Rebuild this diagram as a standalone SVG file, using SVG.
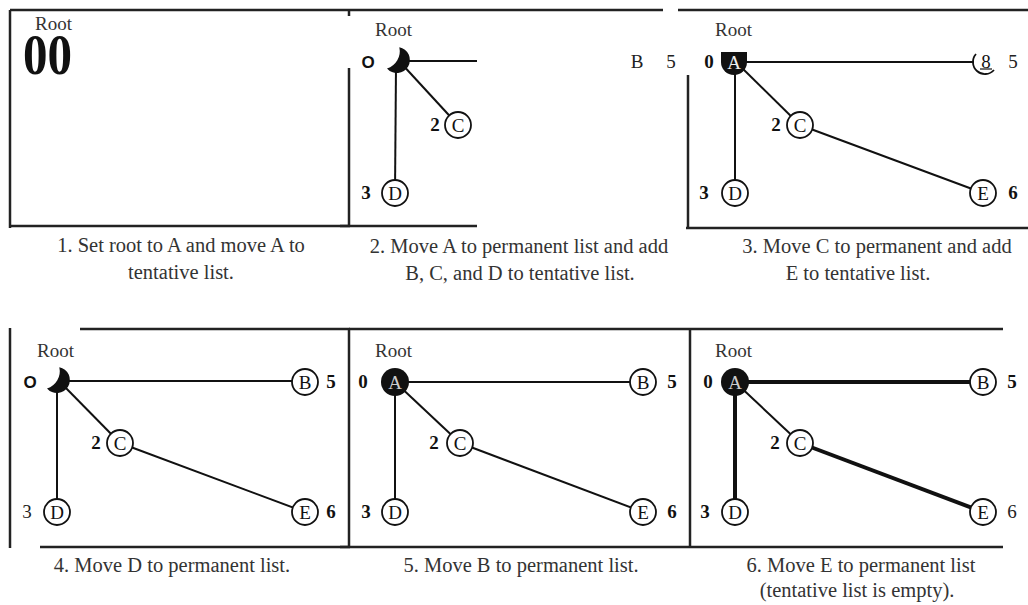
<svg xmlns="http://www.w3.org/2000/svg" width="1028" height="605" viewBox="0 0 1028 605">
<style>
.frame{stroke:#222;stroke-width:2.5;fill:none}
.edge{stroke:#111;stroke-width:2;fill:none}
.thick{stroke:#111;stroke-width:4;fill:none}
.node{fill:#fff;stroke:#111;stroke-width:1.8}
.nl{font-family:"Liberation Serif",serif;font-size:19px;fill:#111;text-anchor:middle}
.num{font-family:"Liberation Serif",serif;font-size:19px;font-weight:bold;fill:#111;text-anchor:middle}
.numr{font-family:"Liberation Serif",serif;font-size:19px;fill:#222;text-anchor:middle}
.root{font-family:"Liberation Serif",serif;font-size:19px;fill:#333}
.cap{font-family:"Liberation Serif",serif;font-size:20.5px;fill:#333;text-anchor:middle}
.o{font-family:"Liberation Sans",sans-serif;font-size:17px;font-weight:bold;fill:#111;text-anchor:middle}
.blk{fill:#111}
.wl{font-family:"Liberation Serif",serif;font-size:19px;fill:#ccc;text-anchor:middle}
</style>
<rect width="1028" height="605" fill="#fff"/>

<g id="frames">
<line class="frame" x1="10" y1="10" x2="663" y2="10"/>
<line class="frame" x1="678" y1="10" x2="1028" y2="10"/>
<line class="frame" x1="10" y1="10" x2="10" y2="228"/>
<line class="frame" x1="9" y1="226" x2="350" y2="226"/>
<line class="frame" x1="349" y1="10" x2="349" y2="16"/>
<line class="frame" x1="349" y1="68" x2="349" y2="227"/>
<line class="frame" x1="340" y1="226" x2="477" y2="226"/>
<line class="frame" x1="688" y1="75" x2="688" y2="229"/>
<line class="frame" x1="686" y1="228" x2="1028" y2="228"/>
<line class="frame" x1="80" y1="329" x2="350" y2="329"/>
<line class="frame" x1="10" y1="328" x2="10" y2="548"/>
<line class="frame" x1="40" y1="547" x2="350" y2="547"/>
<line class="frame" x1="349" y1="329" x2="349" y2="548"/>
<line class="frame" x1="349" y1="329" x2="690" y2="329"/>
<line class="frame" x1="340" y1="547" x2="690" y2="547"/>
<line class="frame" x1="690" y1="329" x2="690" y2="548"/>
<line class="frame" x1="690" y1="329" x2="1003" y2="329"/>
<line class="frame" x1="690" y1="547" x2="1003" y2="547"/>
</g>

<!-- Panel 1 -->
<g id="panel1">
<g id="p1-root"><text class="root" x="35" y="30">Root</text>
<text x="23" y="74" font-family="Liberation Serif,serif" font-size="56" font-weight="bold" fill="#111" textLength="49" lengthAdjust="spacingAndGlyphs">00</text></g>
<text class="cap" x="181" y="252">1. Set root to A and move A to</text>
<text class="cap" x="181" y="279">tentative list.</text>
</g>

<!-- Panel 2 -->
<g id="panel2">
<g id="p2-connectors">
<line class="edge" x1="400" y1="61" x2="477" y2="61"/>
<line class="edge" x1="400" y1="62" x2="458" y2="125"/>
<line class="edge" x1="396" y1="66" x2="395" y2="193"/>
</g>
<text class="root" x="375" y="36">Root</text>
<g id="p2-A"><path class="blk" d="M399.3,47.2 A13,13 0 1,1 387,68.4 A18,18 0 0,0 399.3,47.2 Z"/><text class="o" x="368" y="68">O</text></g>
<g id="p2-C"><circle class="node" cx="458" cy="125" r="13"/><text class="nl" x="458" y="132">C</text><text class="num" x="435" y="131">2</text></g>
<g id="p2-D"><circle class="node" cx="395" cy="193" r="13"/><text class="nl" x="395" y="200">D</text><text class="num" x="366" y="199">3</text></g>
<g id="p2-B"><text class="numr" x="637" y="68">B</text><text class="numr" x="671" y="68">5</text></g>
<text class="cap" x="519" y="253">2. Move A to permanent list and add</text>
<text class="cap" x="520" y="280">B, C, and D to tentative list.</text>
</g>

<!-- Panel 3 -->
<g id="panel3">
<g id="p3-connectors">
<line class="edge" x1="740" y1="62" x2="974" y2="62"/>
<line class="edge" x1="740" y1="66" x2="800" y2="125"/>
<line class="edge" x1="735" y1="70" x2="735" y2="193"/>
</g>
<g id="p3-connectors2">
<line class="edge" x1="800" y1="125" x2="983" y2="193"/>
</g>
<text class="root" x="715" y="36">Root</text>
<g id="p3-A"><path class="blk" d="M721,52 L747,52 L747,62 A13,13 0 0,1 721,62 Z"/><text class="wl" x="734" y="69" style="fill:#eee">A</text><text class="num" x="709" y="68">0</text></g>
<g id="p3-B"><path d="M976,54 A11,11 0 0,0 994,70" fill="none" stroke="#111" stroke-width="1.8"/><text class="nl" x="986" y="68">8</text><line x1="980" y1="69" x2="992" y2="69" stroke="#111" stroke-width="1.2"/><text class="numr" x="1013" y="68">5</text></g>
<g id="p3-C"><circle class="node" cx="800" cy="125" r="13"/><text class="nl" x="800" y="132">C</text><text class="num" x="776" y="131">2</text></g>
<g id="p3-D"><circle class="node" cx="735" cy="193" r="13"/><text class="nl" x="735" y="200">D</text><text class="num" x="704" y="199">3</text></g>
<g id="p3-E"><circle class="node" cx="983" cy="193" r="13"/><text class="nl" x="983" y="200">E</text><text class="num" x="1013" y="199">6</text></g>
<text class="cap" x="877" y="253">3. Move C to permanent and add</text>
<text class="cap" x="858" y="280">E to tentative list.</text>
</g>

<!-- Panel 4 -->
<g id="panel4">
<g id="p4-connectors">
<line class="edge" x1="60" y1="381" x2="305" y2="381"/>
<line class="edge" x1="60" y1="382" x2="120" y2="443"/>
<line class="edge" x1="57" y1="386" x2="57" y2="512"/>
<line class="edge" x1="120" y1="443" x2="305" y2="512"/>
</g>
<text class="root" x="37" y="357">Root</text>
<g id="p4-A"><path class="blk" d="M59.3,367.2 A13,13 0 1,1 47,388.4 A18,18 0 0,0 59.3,367.2 Z"/><text class="o" x="30" y="388">O</text></g>
<g id="p4-B"><circle class="node" cx="305" cy="382" r="13"/><text class="nl" x="305" y="389">B</text><text class="num" x="331" y="388">5</text></g>
<g id="p4-C"><circle class="node" cx="120" cy="443" r="13"/><text class="nl" x="120" y="450">C</text><text class="num" x="96" y="449">2</text></g>
<g id="p4-D"><circle class="node" cx="57" cy="512" r="13"/><text class="nl" x="57" y="519">D</text><text class="numr" x="27" y="518">3</text></g>
<g id="p4-E"><circle class="node" cx="305" cy="512" r="13"/><text class="nl" x="305" y="519">E</text><text class="num" x="331" y="518">6</text></g>
<text class="cap" x="172" y="572">4. Move D to permanent list.</text>
</g>

<!-- Panel 5 -->
<g id="panel5">
<g id="p5-connectors">
<line class="edge" x1="395" y1="382" x2="643" y2="382"/>
<line class="edge" x1="395" y1="382" x2="460" y2="443"/>
<line class="edge" x1="395" y1="382" x2="395" y2="512"/>
<line class="edge" x1="460" y1="443" x2="643" y2="512"/>
</g>
<text class="root" x="375" y="357">Root</text>
<g id="p5-A"><circle cx="395" cy="382" r="14" fill="#111"/><text class="wl" x="395" y="389">A</text><text class="num" x="363" y="388">0</text></g>
<g id="p5-B"><circle class="node" cx="643" cy="382" r="13"/><text class="nl" x="643" y="389">B</text><text class="num" x="672" y="388">5</text></g>
<g id="p5-C"><circle class="node" cx="460" cy="443" r="13"/><text class="nl" x="460" y="450">C</text><text class="num" x="434" y="449">2</text></g>
<g id="p5-D"><circle class="node" cx="395" cy="512" r="13"/><text class="nl" x="395" y="519">D</text><text class="num" x="366" y="518">3</text></g>
<g id="p5-E"><circle class="node" cx="643" cy="512" r="13"/><text class="nl" x="643" y="519">E</text><text class="num" x="672" y="518">6</text></g>
<text class="cap" x="521" y="572">5. Move B to permanent list.</text>
</g>

<!-- Panel 6 -->
<g id="panel6">
<g id="p6-connectors">
<line class="thick" x1="735" y1="382" x2="983" y2="382"/>
<line class="edge" x1="735" y1="382" x2="800" y2="443"/>
<line class="thick" x1="735" y1="382" x2="735" y2="512"/>
<line class="thick" x1="800" y1="443" x2="983" y2="512"/>
</g>
<text class="root" x="715" y="357">Root</text>
<g id="p6-A"><circle cx="735" cy="382" r="14" fill="#111"/><text class="wl" x="735" y="389">A</text><text class="num" x="708" y="388">0</text></g>
<g id="p6-B"><circle class="node" cx="983" cy="382" r="13"/><text class="nl" x="983" y="389">B</text><text class="num" x="1012" y="388">5</text></g>
<g id="p6-C"><circle class="node" cx="800" cy="443" r="13"/><text class="nl" x="800" y="450">C</text><text class="num" x="775" y="449">2</text></g>
<g id="p6-D"><circle class="node" cx="735" cy="512" r="13"/><text class="nl" x="735" y="519">D</text><text class="num" x="705" y="518">3</text></g>
<g id="p6-E"><circle class="node" cx="983" cy="512" r="13"/><text class="nl" x="983" y="519">E</text><text class="numr" x="1012" y="518">6</text></g>
<text class="cap" x="861" y="572">6. Move E to permanent list</text>
<text class="cap" x="857" y="597">(tentative list is empty).</text>
</g>
</svg>
